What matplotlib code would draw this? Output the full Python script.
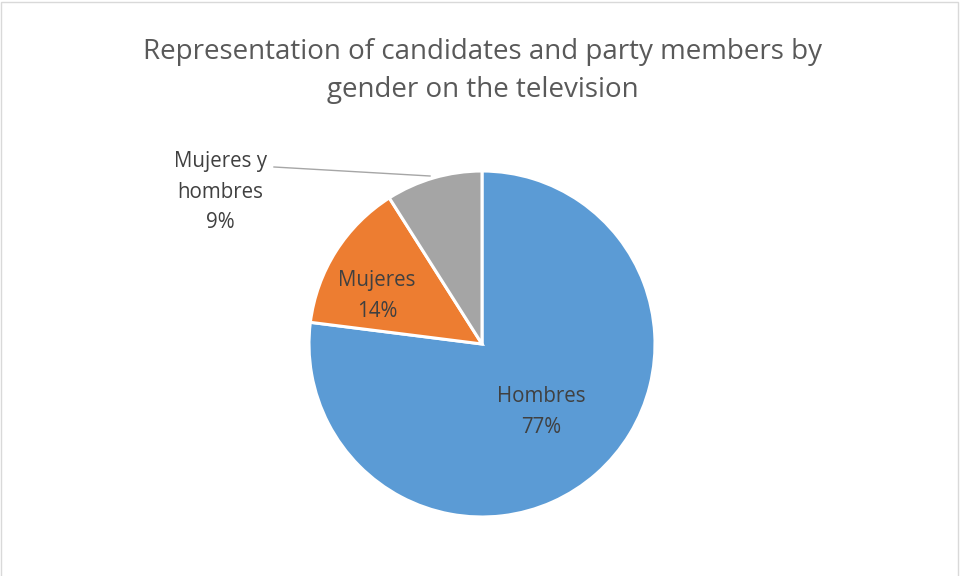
import matplotlib
matplotlib.use("Agg")
import matplotlib.pyplot as plt
from matplotlib.patches import Rectangle

# Share of screen time by gender
categories = ["Hombres", "Mujeres", "Mujeres y\nhombres"]
shares = [77, 14, 9]
colors = ["#5B9BD5", "#ED7D31", "#A5A5A5"]
title = "Representation of candidates and party members by\ngender on the television"

plt.rcParams["font.family"] = ["Open Sans", "DejaVu Sans"]

W, H = 961, 576
fig = plt.figure(figsize=(W / 100, H / 100), dpi=100)
fig.patch.set_facecolor("white")

# light frame around the chart area
fig.add_artist(Rectangle((1 / W, -0.01), (W - 4) / W, 1 - 1.5 / H + 0.01,
                         transform=fig.transFigure, fill=False,
                         edgecolor="#D9D9D9", linewidth=1.0))

cx, cy, r = 482, 344, 173
ax = fig.add_axes([(cx - r) / W, (H - cy - r) / H, 2 * r / W, 2 * r / H])
wedges, _ = ax.pie(shares, colors=colors, startangle=90, counterclock=False,
                   radius=1.0,
                   wedgeprops=dict(edgecolor="white", linewidth=2.2))
ax.set_xlim(-1, 1)
ax.set_ylim(-1, 1)
ax.set_aspect("equal")
ax.axis("off")

txt = "#404040"
fs = 14.8
ls = 1.58
labels = [f"{c}\n{v}%" for c, v in zip(categories, shares)]
ax.text(59 / r, -68 / r, labels[0], ha="center", va="center", color=txt,
        fontsize=fs, linespacing=ls)
ax.text(-105 / r, 48 / r, labels[1], ha="center", va="center", color=txt,
        fontsize=fs, linespacing=ls)
ax.text((220 - cx) / r, (cy - 192) / r, labels[2], ha="center", va="center",
        color=txt, fontsize=fs, linespacing=ls, clip_on=False)
ax.plot([(274 - cx) / r, (430 - cx) / r], [(cy - 167) / r, (cy - 176) / r],
        color="#A6A6A6", linewidth=1.0, clip_on=False)

fig.text(0.502, 1 - 71 / H, title, ha="center", va="center", color="#595959",
         fontsize=20, linespacing=1.5)

fig.savefig("out.png", dpi=100)
